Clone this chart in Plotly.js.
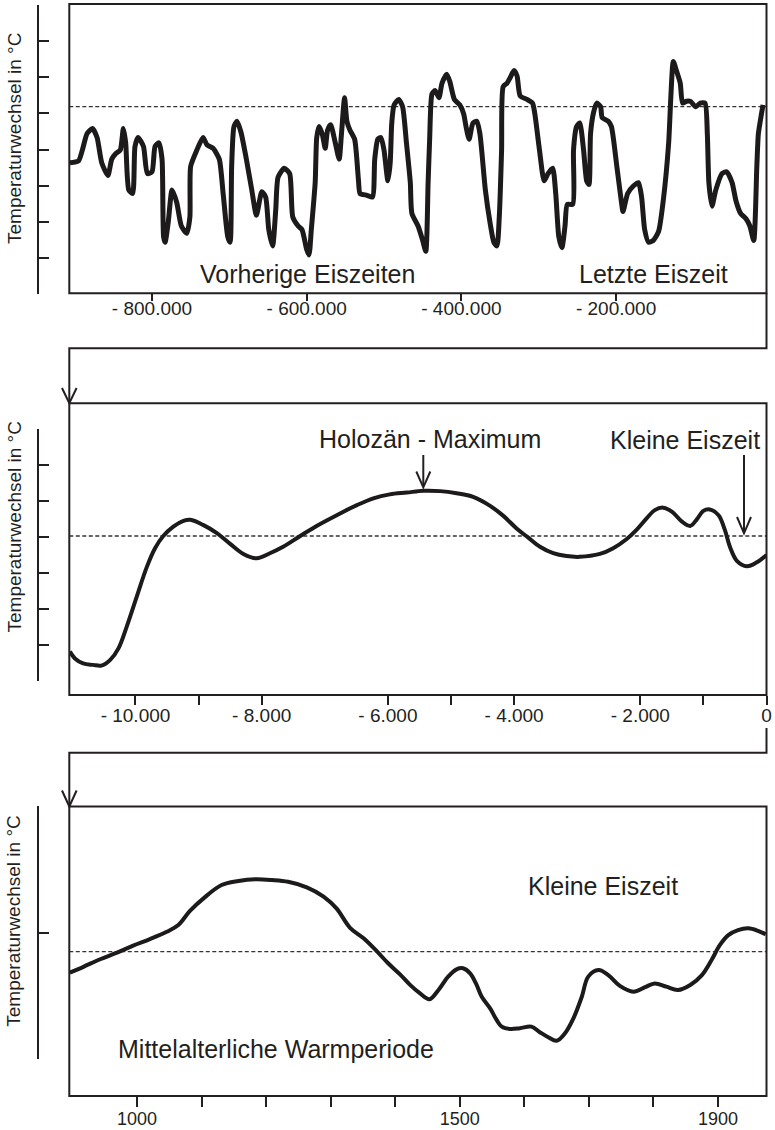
<!DOCTYPE html>
<html>
<head>
<meta charset="utf-8">
<script src="https://cdn.plot.ly/plotly-3.0.1.min.js"></script>
<style>html,body{margin:0;padding:0;background:#fff;}#chart{width:775px;height:1130px;}</style>
</head>
<body>
<div id="chart"></div>
<script>
// ---------- DATA ----------
// Panel 1: last ~900,000 years (x in thousand years, y = temperature change in °C vs. today)
const iceAgeKa = [-906,-895,-890,-884,-877,-871,-865,-857,-852,-847,
  -841,-837,-834,-830,-825,-822,-818,-811,-806,-800,
  -796,-791,-787,-785,-783,-779,-774,-768,-762,-755,
  -751,-750,-742,-734,-729,-721,-713,-708,-702,-699,
  -697,-694,-690,-685,-678,-671,-665,-658,-653,-649,
  -644,-640,-637,-629,-622,-618,-611,-606,-600,-597,
  -594,-589,-587,-584,-580,-576,-573,-569,-563,-558,
  -555,-551,-548,-544,-538,-533,-531,-522,-515,-512,
  -508,-504,-500,-495,-492,-490,-487,-481,-476,-471,
  -466,-464,-456,-450,-446,-443,-441,-438,-434,-429,
  -425,-419,-415,-409,-402,-397,-394,-390,-385,-380,
  -376,-369,-363,-358,-354,-351,-348,-346,-341,-337,
  -332,-328,-324,-315,-308,-305,-299,-293,-288,-282,
  -278,-274,-270,-266,-263,-256,-255,-251,-247,-242,
  -238,-235,-233,-229,-225,-220,-218,-210,-206,-199,
  -193,-191,-185,-178,-171,-167,-163,-158,-152,-145,
  -139,-132,-129,-126,-122,-117,-114,-109,-104,-97,
  -91,-85,-82,-80,-76,-71,-63,-57,-50,-45,
  -39,-32,-27,-22,-18,-16,-12,-10];
const iceAgeTemp = [-3.1,-3.0,-2.4,-1.5,-1.2,-1.7,-3.1,-3.8,-2.9,-2.6,
  -2.4,-1.2,-2.0,-4.6,-4.8,-2.2,-1.7,-2.2,-3.7,-3.6,
  -2.2,-2.0,-2.9,-7.2,-7.5,-6.4,-4.6,-5.3,-6.6,-7.0,
  -6.1,-3.3,-2.4,-1.7,-2.1,-2.3,-2.9,-4.8,-7.2,-7.5,
  -3.3,-1.1,-0.8,-1.4,-2.9,-4.6,-6.0,-4.7,-5.0,-6.8,
  -7.7,-5.7,-3.9,-3.4,-3.7,-6.1,-6.6,-6.8,-7.9,-8.2,
  -6.8,-4.2,-1.7,-1.1,-1.5,-2.3,-1.3,-1.0,-2.0,-2.9,
  -1.5,0.5,-0.8,-1.3,-1.8,-4.1,-4.8,-4.9,-5.0,-2.9,
  -1.8,-1.7,-2.4,-4.1,-3.1,-0.9,0.1,0.4,0.0,-2.0,
  -4.2,-5.9,-6.6,-7.4,-8.0,-4.2,-1.8,0.7,0.9,0.5,
  1.3,1.8,1.4,0.4,0.1,-0.4,-1.1,-1.8,-0.9,-0.8,
  -1.5,-4.6,-6.4,-7.5,-7.7,-6.1,-2.4,1.1,1.3,1.6,
  2.0,1.7,0.6,0.4,0.2,-0.4,-2.4,-4.1,-3.7,-3.4,
  -4.8,-7.2,-7.8,-6.6,-5.4,-5.4,-2.4,-1.1,-0.9,-2.4,
  -4.1,-4.3,-1.5,-0.3,0.2,0.0,-0.6,-0.8,-1.1,-3.3,
  -5.3,-5.8,-4.8,-4.4,-4.2,-5.0,-6.8,-7.5,-7.4,-6.9,
  -5.2,-2.0,0.7,2.5,2.0,1.3,0.2,0.3,0.3,0.0,
  0.2,0.2,-1.5,-4.2,-5.5,-4.6,-3.7,-3.6,-4.2,-5.2,
  -5.9,-6.2,-6.6,-7.4,-3.3,-1.5,-0.4,0.1];
const iceAgeTickVals = [-800, -600, -400, -200];
const iceAgeTickLabels = ['- 800.000', '- 600.000', '- 400.000', '- 200.000'];

// Panel 2: last ~11,000 years (x in years, y in °C)
const holoceneYears = [-11040,-10960,-10830,-10670,-10540,-10400,-10270,-10140,-9980,-9820,
  -9690,-9560,-9400,-9240,-9130,-8930,-8710,-8500,-8290,-8080,
  -7870,-7660,-7390,-7130,-6810,-6490,-6230,-5970,-5700,-5440,
  -5170,-4910,-4650,-4380,-4170,-3960,-3780,-3590,-3380,-3170,
  -2960,-2640,-2430,-2220,-2060,-1900,-1770,-1640,-1500,-1340,
  -1210,-1110,-1000,-900,-760,-660,-580,-470,-310,-160,0];
const holoceneTemp = [-3.22,-3.41,-3.55,-3.59,-3.61,-3.45,-3.13,-2.53,-1.69,-0.86,
  -0.34,0,0.26,0.42,0.45,0.31,0.08,-0.22,-0.50,-0.62,
  -0.48,-0.30,0,0.28,0.58,0.86,1.05,1.16,1.21,1.26,
  1.25,1.19,1.09,0.84,0.56,0.21,-0.04,-0.30,-0.48,-0.56,
  -0.58,-0.50,-0.34,-0.09,0.17,0.49,0.72,0.79,0.68,0.40,
  0.28,0.45,0.70,0.74,0.58,0.17,-0.30,-0.69,-0.84,-0.74,-0.53];
const holoceneTickVals = [-10000, -9000, -8000, -6000, -5000, -4000, -2000, -1000, 0];
const holoceneTickLabels = ['- 10.000', '', '- 8.000', '- 6.000', '', '- 4.000', '- 2.000', '', '0'];

// Panel 3: last ~1,000 years (x = year AD, y in °C)
const millenniumYears = [896,917,943,969,994,1020,1046,1064,1082,1103,
  1131,1157,1183,1209,1234,1263,1289,1309,1330,1351,
  1371,1389,1407,1423,1438,1453,1467,1482,1495,1505,
  1516,1525,1534,1547,1557,1565,1578,1593,1611,1624,
  1637,1650,1663,1676,1689,1699,1715,1730,1748,1769,
  1787,1802,1820,1838,1857,1875,1890,1903,1916,1931,
  1947,1962,1974];
const millenniumTemp = [-0.083,-0.060,-0.030,-0.004,0.024,0.050,0.079,0.106,0.162,0.212,
  0.265,0.281,0.288,0.285,0.278,0.256,0.219,0.172,0.095,0.053,
  0.003,-0.046,-0.089,-0.132,-0.165,-0.189,-0.152,-0.099,-0.070,-0.066,
  -0.086,-0.126,-0.179,-0.225,-0.271,-0.298,-0.307,-0.304,-0.298,-0.320,
  -0.340,-0.354,-0.324,-0.265,-0.179,-0.099,-0.073,-0.093,-0.136,-0.159,
  -0.141,-0.126,-0.139,-0.152,-0.132,-0.093,-0.033,0.027,0.066,0.086,
  0.093,0.083,0.069];
const millenniumTickVals = [1000,1100,1200,1300,1400,1500,1600,1700,1800,1900];
const millenniumTickLabels = ['1000','','','','','1500','','','','1900'];

const referenceLevel = 0; // today's temperature (dashed line)
const yTitle = 'Temperaturwechsel in °C';
const panelLabels = {
  p1: ['Vorherige Eiszeiten', 'Letzte Eiszeit'],
  p2: ['Holozän - Maximum', 'Kleine Eiszeit'],
  p3: ['Kleine Eiszeit', 'Mittelalterliche Warmperiode']
};

// ---------- LAYOUT HELPERS ----------
const W = 775, H = 1130;
const fx = p => p / W;
const fy = p => (H - p) / H;
const INK = '#231f20';
const FONT = 'Liberation Sans, Arial, Helvetica, sans-serif';
const FL = 69.3, FR = 766.5; // frame left / right (px)

function yDomain(zeroPx, pxPerUnit, range) {
  const topPx = zeroPx - range[1] * pxPerUnit;
  const botPx = zeroPx - range[0] * pxPerUnit;
  return [fy(botPx), fy(topPx)];
}
function pathFrom(pts) {
  return pts.map((p, i) => (i ? 'L' : 'M') + fx(p[0]).toFixed(5) + ',' + fy(p[1]).toFixed(5)).join(' ');
}

const panels = [
  {frameTop: 4, frameBot: 293.3, zeroPx: 106.7, ppu: 18.08, yr: [-10.385, 5.63], tick0: 5.625, dtick: 2,
   xr: [-906.9, -5.5], tv: iceAgeTickVals, tt: iceAgeTickLabels, ticklen: 7, standoff: -9, tfs: 19, lw: 5},
  {frameTop: 403.3, frameBot: 695, zeroPx: 536, ppu: 35.9, yr: [-4.036, 2.977], tick0: 2.972, dtick: 1,
   xr: [-11049, 0], tv: holoceneTickVals, tt: holoceneTickLabels, ticklen: 9, standoff: -6, tfs: 19, lw: 4},
  {frameTop: 806.5, frameBot: 1096, zeroPx: 951.7, ppu: 251.6, yr: [-0.426, 0.578], tick0: 0.576, dtick: 0.5,
   xr: [895.1, 1975.1], tv: millenniumTickVals, tt: millenniumTickLabels, ticklen: 10, standoff: -4, tfs: 18, lw: 4}
];

const traces = [
  {x: iceAgeKa, y: iceAgeTemp, xaxis: 'x', yaxis: 'y'},
  {x: holoceneYears, y: holoceneTemp, xaxis: 'x2', yaxis: 'y2'},
  {x: millenniumYears, y: millenniumTemp, xaxis: 'x3', yaxis: 'y3'}
].map((t, i) => Object.assign(t, {
  type: 'scatter', mode: 'lines', hoverinfo: 'skip', showlegend: false,
  line: {color: '#1c1a1a', width: panels[i].lw, shape: 'spline', smoothing: i === 0 ? 0.6 : 1.0}
}));

const layout = {
  width: W, height: H,
  margin: {l: 0, r: 0, t: 0, b: 0},
  paper_bgcolor: '#ffffff', plot_bgcolor: 'rgba(0,0,0,0)',
  showlegend: false,
  font: {family: FONT, color: INK},
  shapes: [], annotations: []
};

panels.forEach((p, i) => {
  const sx = i === 0 ? '' : String(i + 1);
  layout['xaxis' + sx] = {
    domain: [fx(FL), fx(FR)], range: p.xr, anchor: 'free', position: fy(p.frameBot),
    showgrid: false, zeroline: false, showline: false,
    ticks: 'outside', ticklen: p.ticklen, tickwidth: 2, tickcolor: INK,
    tickmode: 'array', tickvals: p.tv, ticktext: p.tt, ticklabelstandoff: p.standoff,
    tickfont: {family: FONT, size: p.tfs, color: INK}, fixedrange: true
  };
  layout['yaxis' + sx] = {
    domain: yDomain(p.zeroPx, p.ppu, p.yr), range: p.yr, anchor: 'free', position: fx(37.5),
    showgrid: false, zeroline: false, showline: true, linewidth: 2.5, linecolor: INK,
    ticks: 'inside', ticklen: 10, tickwidth: 2, tickcolor: INK,
    tickmode: 'linear', tick0: p.tick0, dtick: p.dtick, showticklabels: false, fixedrange: true
  };
  // frame
  layout.shapes.push({type: 'rect', xref: 'paper', yref: 'paper',
    x0: fx(FL), x1: fx(FR), y0: fy(p.frameBot), y1: fy(p.frameTop),
    line: {color: INK, width: 2}});
  // today's level (dashed)
  layout.shapes.push({type: 'line', xref: 'x' + sx + ' domain', yref: 'y' + sx,
    x0: 0, x1: 1, y0: referenceLevel, y1: referenceLevel, layer: 'below',
    line: {color: '#333333', width: 1.3, dash: '4px,2.5px'}});
  // y-axis title
  const yc = [139, 527.5, 921.7][i];
  layout.annotations.push({xref: 'paper', yref: 'paper', x: fx(14), y: fy(yc),
    text: yTitle, textangle: -90, showarrow: false, xanchor: 'center', yanchor: 'middle',
    font: {family: FONT, size: 19, color: INK}});
});

// connectors between panels
const stroke = {color: INK, width: 2};
layout.shapes.push(
  {type: 'path', xref: 'paper', yref: 'paper', line: stroke,
   path: pathFrom([[FR, 293.3], [FR, 348.3], [FL, 348.3], [FL, 402.5]])},
  {type: 'path', xref: 'paper', yref: 'paper', line: stroke,
   path: pathFrom([[FL - 7.3, 388], [FL, 403.3], [FL + 7.3, 388]])},
  {type: 'path', xref: 'paper', yref: 'paper', line: stroke,
   path: pathFrom([[FR, 728], [FR, 752.7], [FL, 752.7], [FL, 806]])},
  {type: 'path', xref: 'paper', yref: 'paper', line: stroke,
   path: pathFrom([[FL - 7.3, 790.5], [FL, 806.5], [FL + 7.3, 790.5]])},
  // Holozän-Maximum arrow
  {type: 'path', xref: 'paper', yref: 'paper', line: stroke,
   path: pathFrom([[423.3, 455], [423.3, 486.5]])},
  {type: 'path', xref: 'paper', yref: 'paper', line: stroke,
   path: pathFrom([[416.3, 471.5], [423.3, 487.3], [430.3, 471.5]])},
  // Kleine Eiszeit arrow (panel 2)
  {type: 'path', xref: 'paper', yref: 'paper', line: stroke,
   path: pathFrom([[744, 455], [744, 532.5]])},
  {type: 'path', xref: 'paper', yref: 'paper', line: stroke,
   path: pathFrom([[737, 517], [744, 533.3], [751, 517]])}
);

// panel text labels
function label(text, cx, cy) {
  layout.annotations.push({xref: 'paper', yref: 'paper', x: fx(cx), y: fy(cy), text: text,
    showarrow: false, xanchor: 'center', yanchor: 'middle',
    font: {family: FONT, size: 25, color: INK}});
}
label(panelLabels.p1[0], 307.8, 274);
label(panelLabels.p1[1], 653, 274);
label(panelLabels.p2[0], 430, 439.5);
label(panelLabels.p2[1], 685, 440);
label(panelLabels.p3[0], 602.5, 886);
label(panelLabels.p3[1], 276, 1049);

Plotly.newPlot('chart', traces, layout, {staticPlot: true, displayModeBar: false});
</script>
</body>
</html>
